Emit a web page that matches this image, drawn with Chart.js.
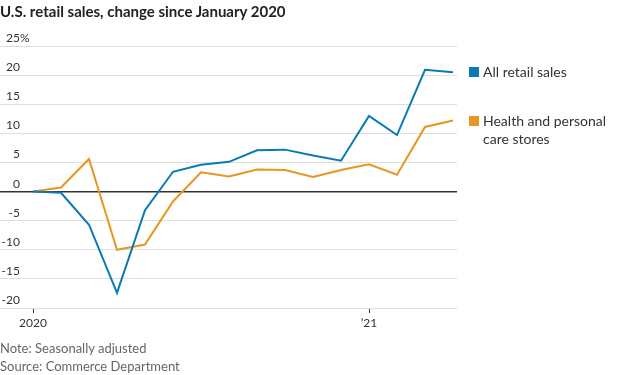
<!DOCTYPE html>
<html>
<head>
<meta charset="utf-8">
<script src="https://cdn.jsdelivr.net/npm/chart.js@4"></script>
<style>
  body { margin: 0; background: #fff; font-family: Lato, "Noto Sans", sans-serif; }
  #wrap { position: relative; width: 620px; height: 375px; overflow: hidden; }
  #wrap canvas { position: absolute; left: 0; top: 0; }
  .title { position: absolute; left: 0; top: 2px; font-size: 15px; font-weight: bold; color: #222; white-space: nowrap; }
  .note { position: absolute; left: 0; font-size: 13px; color: #666; white-space: nowrap; }
  .leg { position: absolute; left: 469px; font-size: 14px; line-height: 18px; color: #333; }
  .leg i { position: absolute; left: 0; top: 4px; width: 10px; height: 10px; }
  .leg span { display: block; margin-left: 14px; }
</style>
</head>
<body>
<div id="wrap">
  <canvas id="chart" width="620" height="375"></canvas>
  <div class="title">U.S. retail sales, change since January 2020</div>
  <div class="leg" style="top:63px"><i style="background:#0a7ab3"></i><span>All retail sales</span></div>
  <div class="leg" style="top:112px"><i style="background:#e8961f"></i><span>Health and personal<br>care stores</span></div>
  <div class="note" style="top:340px">Note: Seasonally adjusted</div>
  <div class="note" style="top:358px">Source: Commerce Department</div>
</div>
<script>
// months, Jan 2020 .. Apr 2021
const months = ['Jan 2020', 'Feb 2020', 'Mar 2020', 'Apr 2020', 'May 2020', 'Jun 2020', 'Jul 2020', 'Aug 2020',
  'Sep 2020', 'Oct 2020', 'Nov 2020', 'Dec 2020', 'Jan 2021', 'Feb 2021', 'Mar 2021', 'Apr 2021'];
// % change since Jan 2020
const allRetail = [0, -0.2, -5.7, -17.4, -3.2, 3.4, 4.6, 5.1, 7.1, 7.2, 6.2, 5.3, 13.0, 9.7, 20.9, 20.5];
const healthCare = [0, 0.7, 5.6, -10.0, -9.1, -1.7, 3.3, 2.6, 3.8, 3.7, 2.5, 3.7, 4.7, 2.9, 11.1, 12.2];

const xTickIdx = [0, 12];
const xTickText = ['2020', '\u201921'];
const yTicks = [-20, -15, -10, -5, 0, 5, 10, 15, 20, 25];

const BLUE = '#0a7ab3';
const ORANGE = '#e8961f';

function toPoints(arr) {
  return arr.map(function(v, i) { return { x: i, y: v }; });
}

// y labels sit just above the gridlines, with % only on the top one
const yLabels = {
  id: 'yLabels',
  afterDraw: function(chart) {
    const ctx = chart.ctx;
    const y = chart.scales.y;
    ctx.save();
    ctx.font = '12px Lato, "Noto Sans", sans-serif';
    ctx.fillStyle = '#333';
    ctx.textBaseline = 'alphabetic';
    yTicks.forEach(function(v) {
      const py = y.getPixelForValue(v) - 4;
      ctx.textAlign = 'right';
      ctx.fillText(String(v), 20, py);
      if (v === yTicks[yTicks.length - 1]) {
        ctx.textAlign = 'left';
        ctx.fillText('%', 20, py);
      }
    });
    ctx.restore();
  }
};

new Chart(document.getElementById('chart'), {
  type: 'line',
  data: {
    datasets: [
      { label: 'All retail sales', data: toPoints(allRetail), borderColor: BLUE, borderWidth: 2, pointRadius: 0, tension: 0 },
      { label: 'Health and personal care stores', data: toPoints(healthCare), borderColor: ORANGE, borderWidth: 2, pointRadius: 0, tension: 0 }
    ]
  },
  options: {
    responsive: false,
    animation: false,
    layout: { padding: { top: 46, left: 0, right: 163, bottom: 37 } },
    plugins: { legend: { display: false }, tooltip: { enabled: false } },
    scales: {
      x: {
        type: 'linear',
        min: -33 / 28,
        max: 424 / 28,
        afterBuildTicks: function(scale) {
          scale.ticks = xTickIdx.map(function(v) { return { value: v }; });
        },
        afterFit: function(scale) { scale.height = 30; },
        grid: { drawOnChartArea: false, drawTicks: true, tickLength: 5, color: '#333' },
        border: { display: false },
        ticks: {
          autoSkip: false,
          maxRotation: 0,
          padding: 3,
          color: '#333',
          font: { family: 'Lato, "Noto Sans", sans-serif', size: 12 },
          callback: function(v) {
            const k = xTickIdx.indexOf(v);
            return k < 0 ? '' : xTickText[k];
          }
        }
      },
      y: {
        min: -20,
        max: 25,
        afterBuildTicks: function(scale) {
          scale.ticks = yTicks.map(function(v) { return { value: v }; });
        },
        afterFit: function(scale) { scale.width = 0; },
        border: { display: false },
        ticks: { display: false },
        grid: {
          drawTicks: false,
          lineWidth: function(c) { return c.tick && c.tick.value === 0 ? 1.5 : 1; },
          color: function(c) { return c.tick && c.tick.value === 0 ? '#333' : '#dedede'; }
        }
      }
    }
  },
  plugins: [yLabels]
});
</script>
</body>
</html>
